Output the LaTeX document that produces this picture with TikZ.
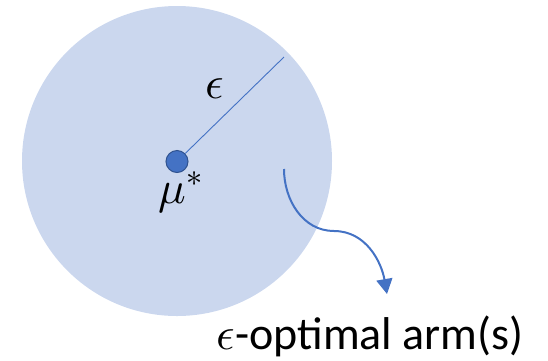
\documentclass[tikz,border=0pt]{standalone}
\usepackage{fontspec}
\usepackage{unicode-math}
\setmainfont{Carlito}
\setmathfont{Latin Modern Math}
\usetikzlibrary{arrows.meta}
\definecolor{ballfill}{RGB}{203,215,238}
\definecolor{accent}{RGB}{68,114,196}
\definecolor{accentdark}{RGB}{47,82,143}
\tikzset{
  ball/.style={circle, fill=ballfill, draw=none, minimum size=310pt, inner sep=0pt},
  centerdot/.style={circle, fill=accent, draw=accentdark, line width=1pt, minimum size=22pt, inner sep=0pt},
  radius line/.style={draw=accent, line width=0.9pt},
  pointer/.style={draw=accent, line width=2pt, -{Triangle[length=15pt,width=16pt]}},
  bigtext/.style={font=\fontsize{46}{52}\selectfont, inner sep=0pt, text=black}
}
\begin{document}
\begin{tikzpicture}[x=1pt,y=-1pt]
\useasboundingbox (0,0) rectangle (548,360);
\node[ball] (ball) at (177,161) {};
\node[centerdot] (mu) at (177,161.5) {};
\coordinate (rim) at (284,57);
\draw[radius line] (mu) -- (rim);
\node[bigtext, anchor=base] (eps) at (215,98) {$\epsilon$};
\node[bigtext, anchor=base] (mulabel) at (181,203) {$\mu^*$};
\coordinate (start) at (284,169);
\coordinate (mid) at (334,231);
\node[bigtext, anchor=base] (label) at (370,349) {$\epsilon$-optimal arm(s)};
\coordinate (tip) at (387,294);
\draw[pointer] (start) to[out=-90,in=180] (mid) to[out=0,in=100] (tip);
\end{tikzpicture}
\end{document}
